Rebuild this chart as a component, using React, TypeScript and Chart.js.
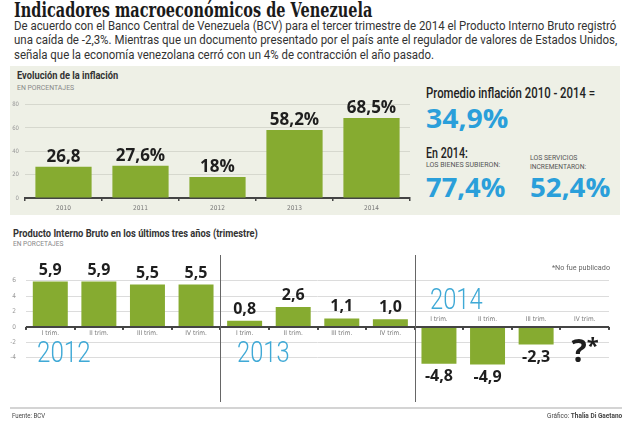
import React, { useEffect, useLayoutEffect, useRef } from "react";
import { Chart, registerables } from "chart.js";
Chart.register(...registerables);

// ---------- data ----------
const inflationYears = ["2010", "2011", "2012", "2013", "2014"];
const inflationValues = [26.8, 27.6, 18, 58.2, 68.5];
const inflationLabels = ["26,8", "27,6%", "18%", "58,2%", "68,5%"];
const inflationTicks = [0, 20, 40, 60, 80];

const gdpQuarters = [
  "I trim.", "II trim.", "III trim.", "IV trim.",
  "I trim.", "II trim.", "III trim.", "IV trim.",
  "I trim.", "II trim.", "III trim.", "IV trim.",
];
const gdpValues: (number | null)[] = [5.9, 5.9, 5.5, 5.5, 0.8, 2.6, 1.1, 1.0, -4.8, -4.9, -2.3, null];
const gdpLabels = ["5,9", "5,9", "5,5", "5,5", "0,8", "2,6", "1,1", "1,0", "-4,8", "-4,9", "-2,3", "?*"];
const gdpTicks = [-4, -2, 0, 2, 4, 6];
const gdpYears = ["2012", "2013", "2014"];

// ---------- styles ----------
const GREEN = "#86ab30";
const BLUE = "#2a9fda";
const YEARBLUE = "#3fa9d6";
const SANS = '"Open Sans", "Noto Sans", sans-serif';
const TXT = 'Roboto, "Noto Sans", sans-serif';
const SMALL = '"DejaVu Sans Condensed", "DejaVu Sans", sans-serif';

function T(props: any) {
  const { x, y, size, weight = 400, color = "#222", family = TXT, align = "left", ls = 0, w, children } = props;
  const ref = useRef<HTMLDivElement>(null);
  useLayoutEffect(() => {
    const fit = () => {
      const el = ref.current;
      if (!el || !w) return;
      const natural = el.offsetWidth;
      if (natural > 0) el.style.transform = `translateY(-50%) scaleX(${w / natural})`;
    };
    fit();
    if ((document as any).fonts && (document as any).fonts.ready) (document as any).fonts.ready.then(fit);
  });
  const style: any = {
    position: "absolute",
    top: y,
    fontSize: size,
    fontWeight: weight,
    color,
    fontFamily: family,
    lineHeight: 1,
    whiteSpace: "nowrap",
    letterSpacing: ls,
    transform: "translateY(-50%)",
    transformOrigin: align === "right" ? "right center" : "left center",
  };
  if (align === "right") style.right = 640 - x;
  else style.left = x;
  return <div ref={ref} style={style}>{children}</div>;
}

export default function App() {
  const inflRef = useRef<HTMLCanvasElement>(null);
  const gdpRef = useRef<HTMLCanvasElement>(null);

  useEffect(() => {
    const inflPlugin = {
      id: "inflLabels",
      afterDatasetsDraw(chart: any) {
        const ctx = chart.ctx;
        const meta = chart.getDatasetMeta(0);
        ctx.save();
        ctx.font = `bold 17px ${SANS}`;
        ctx.fillStyle = "#1e1e1e";
        ctx.textAlign = "center";
        ctx.textBaseline = "alphabetic";
        meta.data.forEach((el: any, i: number) => {
          ctx.fillText(inflationLabels[i], el.x, el.y - 5);
        });
        ctx.restore();
      },
    };

    const infl = new Chart(inflRef.current!, {
      type: "bar",
      data: {
        labels: inflationYears,
        datasets: [{ data: inflationValues, backgroundColor: GREEN, barPercentage: 0.73, categoryPercentage: 1 }],
      },
      options: {
        animation: false,
        responsive: false,
        layout: { padding: { top: 9, right: 10, left: 0, bottom: 0 } },
        plugins: { legend: { display: false }, tooltip: { enabled: false } },
        scales: {
          x: {
            afterFit: (s: any) => { s.height = 17; },
            border: { color: "#444", width: 2 },
            grid: { offset: true, drawOnChartArea: false, drawTicks: true, tickLength: 3, color: "#444", lineWidth: 1.5 },
            ticks: { color: "#777", font: { size: 6.5, family: SMALL }, padding: 3 },
          },
          y: {
            min: 0,
            max: 80,
            afterFit: (s: any) => { s.width = 25; },
            afterBuildTicks: (s: any) => { s.ticks = inflationTicks.map((v) => ({ value: v })); },
            border: { display: false },
            grid: {
              drawTicks: false,
              color: (c: any) => (c.tick && c.tick.value === 0 ? "rgba(0,0,0,0)" : "#d6d8ce"),
            },
            ticks: { color: "#999", font: { size: 6, family: SMALL }, padding: 6 },
          },
        },
      },
      plugins: [inflPlugin],
    });

    const gdpPlugin = {
      id: "gdpExtras",
      afterDatasetsDraw(chart: any) {
        const ctx = chart.ctx;
        const xs = chart.scales.x;
        const ys = chart.scales.y;
        const zero = ys.getPixelForValue(0);
        const step = xs.getPixelForValue(1) - xs.getPixelForValue(0);
        const meta = chart.getDatasetMeta(0);
        ctx.save();
        ctx.fillStyle = "#444";
        for (let i = 0; i <= gdpQuarters.length; i++) {
          const px = xs.getPixelForValue(0) - step / 2 + i * step;
          ctx.fillRect(Math.round(px) - 1, zero, 2, 3);
        }
        ctx.strokeStyle = "#666";
        ctx.lineWidth = 1;
        [4, 8].forEach((i) => {
          const px = Math.round(xs.getPixelForValue(i) - step / 2) + 0.5;
          ctx.beginPath();
          ctx.moveTo(px, 5);
          ctx.lineTo(px, 152);
          ctx.stroke();
        });
        ctx.font = `6.5px ${SMALL}`;
        ctx.fillStyle = "#777";
        ctx.textAlign = "center";
        ctx.textBaseline = "middle";
        gdpQuarters.forEach((q, i) => {
          const v = gdpValues[i];
          const px = xs.getPixelForValue(i);
          const above = v === null || v < 0;
          ctx.fillText(q, px, above ? zero - 8 : zero + 6);
        });
        ctx.fillStyle = "#1e1e1e";
        gdpLabels.forEach((lab, i) => {
          const v = gdpValues[i];
          const px = xs.getPixelForValue(i);
          if (v === null) {
            ctx.textBaseline = "alphabetic";
            ctx.textAlign = "right";
            ctx.font = `bold 32px ${SANS}`;
            const base = ys.getPixelForValue(-4.6);
            ctx.fillText("?", px + 2, base);
            ctx.textAlign = "left";
            ctx.font = `bold 22px ${SANS}`;
            ctx.fillText("*", px + 2, base - 9);
            ctx.textAlign = "center";
            return;
          }
          const el = meta.data[i];
          ctx.font = `bold 16px ${SANS}`;
          if (v >= 0) {
            ctx.textBaseline = "alphabetic";
            ctx.fillText(lab, px, el.y - 7);
          } else {
            ctx.textBaseline = "top";
            ctx.fillText(lab, px, el.y + 5);
          }
        });
        ctx.restore();
      },
    };

    const gdp = new Chart(gdpRef.current!, {
      type: "bar",
      data: {
        labels: gdpQuarters,
        datasets: [{ data: gdpValues as any, backgroundColor: GREEN, barPercentage: 0.72, categoryPercentage: 1 }],
      },
      options: {
        animation: false,
        responsive: false,
        layout: { padding: { top: 15.4, right: 31, left: 0, bottom: 13.7 } },
        plugins: { legend: { display: false }, tooltip: { enabled: false } },
        scales: {
          x: { display: false },
          y: {
            min: -9,
            max: 8,
            afterFit: (s: any) => { s.width = 26; },
            afterBuildTicks: (s: any) => { s.ticks = gdpTicks.map((v) => ({ value: v })); },
            border: { display: false },
            grid: {
              drawTicks: false,
              color: (c: any) => (c.tick && c.tick.value === 0 ? "#444" : "#dcdcdc"),
              lineWidth: (c: any) => (c.tick && c.tick.value === 0 ? 2 : 1),
            },
            ticks: { color: "#999", font: { size: 6.5, family: SMALL }, padding: 10 },
          },
        },
      },
      plugins: [gdpPlugin],
    });

    return () => {
      infl.destroy();
      gdp.destroy();
    };
  }, []);

  const YEARFONT = 'Roboto, "Open Sans", sans-serif';

  return (
    <div style={{ position: "fixed", left: 0, top: 0, width: 640, height: 427, background: "#fff", overflow: "hidden" }}>
      <T x={14} y={9} size={21} weight={700} family={'"DejaVu Serif", "Liberation Serif", serif'} color="#1a1a1a" w={358}>
        Indicadores macroeconómicos de Venezuela
      </T>
      <T x={14} y={26} size={12.5} color="#333" w={602}>
        De acuerdo con el Banco Central de Venezuela (BCV) para el tercer trimestre de 2014 el Producto Interno Bruto registró
      </T>
      <T x={14} y={40} size={12.5} color="#333" w={603}>
        una caída de -2,3%. Mientras que un documento presentado por el país ante el regulador de valores de Estados Unidos,
      </T>
      <T x={14} y={55} size={12.5} color="#333" w={420}>
        señala que la economía venezolana cerró con un 4% de contracción el año pasado.
      </T>

      <div style={{ position: "absolute", left: 10, top: 66, width: 610, height: 149, background: "#eef0e6" }} />
      <T x={17} y={76} size={11.5} weight={700} color="#333" w={101}>Evolución de la inflación</T>
      <T x={17} y={88} size={7} color="#888" w={57}>EN PORCENTAJES</T>

      <canvas ref={inflRef} width={420} height={120} style={{ position: "absolute", left: 0, top: 95 }} />

      <T x={426} y={93} size={14} weight={500} color="#222" w={169}>Promedio inflación 2010 - 2014 =</T>
      <T x={426} y={117} size={27} weight={700} family={SANS} color={BLUE} w={82}>34,9%</T>
      <T x={426} y={153} size={14} weight={500} color="#222" w={42}>En 2014:</T>
      <T x={426} y={165} size={7} color="#555" w={74}>LOS BIENES SUBIERON:</T>
      <T x={530} y={158} size={7} color="#555" w={47}>LOS SERVICIOS</T>
      <T x={530} y={167} size={7} color="#555" w={56}>INCREMENTARON:</T>
      <T x={426} y={186} size={27} weight={700} family={SANS} color={BLUE} w={79}>77,4%</T>
      <T x={530} y={186} size={27} weight={700} family={SANS} color={BLUE} w={80}>52,4%</T>

      <T x={13} y={234} size={11.5} weight={700} color="#333" w={245}>Producto Interno Bruto en los últimos tres años (trimestre)</T>
      <T x={13} y={244} size={7} color="#888" w={50}>EN PORCETAJES</T>

      <canvas ref={gdpRef} width={640} height={160} style={{ position: "absolute", left: 0, top: 250 }} />

      <T x={37} y={352} size={30} weight={300} family={YEARFONT} color={YEARBLUE} w={54}>{gdpYears[0]}</T>
      <T x={237} y={352} size={30} weight={300} family={YEARFONT} color={YEARBLUE} w={53}>{gdpYears[1]}</T>
      <T x={430} y={299} size={30} weight={300} family={YEARFONT} color={YEARBLUE} w={53}>{gdpYears[2]}</T>
      <T x={610} y={268} size={7.5} color="#666" align="right" w={58}>*No fue publicado</T>

      <div style={{ position: "absolute", left: 10, top: 407, width: 612, height: 2, background: "#d4d4d4" }} />
      <T x={12} y={416} size={7} color="#444" w={33}>Fuente: BCV</T>
      <T x={622} y={416} size={7.5} color="#444" align="right" w={75}>
        Gráfico: <b>Thalia Di Gaetano</b>
      </T>
    </div>
  );
}
